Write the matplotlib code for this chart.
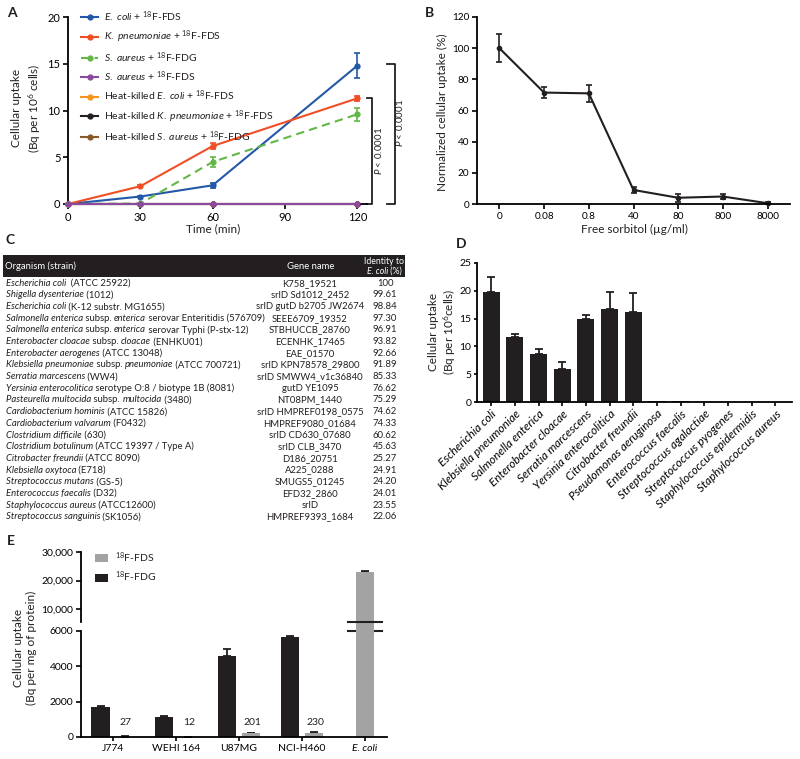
import numpy as np
import matplotlib
matplotlib.use("Agg")
import matplotlib.pyplot as plt
from matplotlib.transforms import Affine2D, blended_transform_factory
from matplotlib.patches import Rectangle

plt.rcParams['font.family'] = ['Lato', 'DejaVu Sans']
plt.rcParams['mathtext.fontset'] = 'custom'
plt.rcParams['mathtext.rm'] = 'Lato'
plt.rcParams['mathtext.it'] = 'Lato:italic'
plt.rcParams['mathtext.bf'] = 'Lato:bold'
plt.rcParams['axes.linewidth'] = 1.3
plt.rcParams['xtick.major.width'] = 1.2
plt.rcParams['ytick.major.width'] = 1.2
plt.rcParams['xtick.major.size'] = 3.5
plt.rcParams['ytick.major.size'] = 3.5
plt.rcParams['xtick.labelsize'] = 7.5
plt.rcParams['ytick.labelsize'] = 7.5
plt.rcParams['xtick.major.pad'] = 2
plt.rcParams['ytick.major.pad'] = 2
TXT = '#231f20'
plt.rcParams['text.color'] = TXT

# ---- panel A: uptake over time
time_min = [0, 30, 60, 120]
ecoli_fds = [0, 0.8, 2.0, 14.8]
ecoli_fds_err = [0, 0.1, 0.25, 1.3]
kpn_fds = [0, 1.9, 6.2, 11.3]
kpn_fds_err = [0, 0.1, 0.3, 0.25]
saureus_fdg = [0, 0.05, 4.5, 9.6]
saureus_fdg_err = [0, 0.05, 0.5, 0.7]
saureus_fds = [0, 0, 0, 0]
hk_ecoli_fds = [0, 0, 0, 0]
hk_kpn_fds = [0, 0, 0, 0]
hk_saureus_fdg = [0, 0, 0, 0]

# ---- panel B: competition with free sorbitol
sorbitol_labels = ['0', '0.08', '0.8', '40', '80', '800', '8000']
norm_uptake = [100, 71.5, 71, 9, 4, 4.8, 0.5]
norm_uptake_err = [9, 3.5, 5.5, 2, 2.5, 1.5, 0.5]

# ---- panel C: srlD homologues (*...* = italic)
organisms = [
    '*Escherichia coli*  (ATCC 25922)',
    '*Shigella dysenteriae* (1012)',
    '*Escherichia coli* (K-12 substr. MG1655)',
    '*Salmonella enterica* subsp. *enterica* serovar Enteritidis (576709)',
    '*Salmonella enterica* subsp. *enterica* serovar Typhi (P-stx-12)',
    '*Enterobacter cloacae* subsp. *cloacae* (ENHKU01)',
    '*Enterobacter aerogenes* (ATCC 13048)',
    '*Klebsiella pneumoniae* subsp. *pneumoniae* (ATCC 700721)',
    '*Serratia marcescens* (WW4)',
    '*Yersinia enterocolitica* serotype O:8 / biotype 1B (8081)',
    '*Pasteurella multocida* subsp. *multocida* (3480)',
    '*Cardiobacterium hominis* (ATCC 15826)',
    '*Cardiobacterium valvarum* (F0432)',
    '*Clostridium difficile* (630)',
    '*Clostridium botulinum* (ATCC 19397 / Type A)',
    '*Citrobacter freundii* (ATCC 8090)',
    '*Klebsiella oxytoca* (E718)',
    '*Streptococcus mutans* (GS-5)',
    '*Enterococcus faecalis* (D32)',
    '*Staphylococcus aureus* (ATCC12600)',
    '*Streptococcus sanguinis* (SK1056)',
]
gene_names = ['K758_19521', 'srlD Sd1012_2452', 'srlD gutD b2705 JW2674',
              'SEEE6709_19352', 'STBHUCCB_28760', 'ECENHK_17465', 'EAE_01570',
              'srlD KPN78578_29800', 'srlD SMWW4_v1c36840', 'gutD YE1095',
              'NT08PM_1440', 'srlD HMPREF0198_0575', 'HMPREF9080_01684',
              'srlD CD630_07680', 'srlD CLB_3470', 'D186_20751', 'A225_0288',
              'SMUGS5_01245', 'EFD32_2860', 'srlD', 'HMPREF9393_1684']
identity = ['100', '99.61', '98.84', '97.30', '96.91', '93.82', '92.66',
            '91.89', '85.33', '76.62', '75.29', '74.62', '74.33', '60.62',
            '45.63', '25.27', '24.91', '24.20', '24.01', '23.55', '22.06']

# ---- panel D: uptake across species
species_D = ['Escherichia coli', 'Klebsiella pneumoniae', 'Salmonella enterica',
             'Enterobacter cloacae', 'Serratia marcescens', 'Yersinia enterocolitica',
             'Citrobacter freundii', 'Pseudomonas aeruginosa', 'Enterococcus faecalis',
             'Streptococcus agalactiae', 'Streptococcus pyogenes',
             'Staphylococcus epidermidis', 'Staphylococcus aureus']
uptake_D = [19.8, 11.7, 8.6, 5.9, 14.9, 16.7, 16.2, 0.2, 0.25, 0.05, 0.05, 0.05, 0.05]
uptake_D_err = [2.7, 0.5, 0.9, 1.3, 0.7, 3.1, 3.4, 0, 0, 0, 0, 0, 0]

# ---- panel E: mammalian cells vs E. coli
cell_lines = ['J774', 'WEHI 164', 'U87MG', 'NCI-H460', 'E. coli']
fdg_uptake = [1700, 1150, 4580, 5650]
fdg_err = [50, 30, 380, 50]
fds_uptake = [27, 12, 201, 230, 22900]
fds_err = [10, 5, 30, 30, 600]
fds_text = ['27', '12', '201', '230']

W, H = 800, 759
fig = plt.figure(figsize=(W / 100, H / 100), dpi=100)
PX = Affine2D().scale(1 / W, -1 / H).translate(0, 1) + fig.transFigure
renderer = fig.canvas.get_renderer()


def add_ax(l, t, r, b):
    ax = fig.add_axes([l / W, 1 - b / H, (r - l) / W, (b - t) / H])
    ax.patch.set_alpha(0)
    for s in ['top', 'right']:
        ax.spines[s].set_visible(False)
    return ax


def rich_text(x, y, s, **kw):
    # draw "*italic* plain" pieces one after another
    for i, part in enumerate(s.split('*')):
        if not part:
            continue
        t = fig.text(x, y, part, transform=PX, va='center',
                     fontstyle='italic' if i % 2 else 'normal', **kw)
        x += t.get_window_extent(renderer).width


def letter(x, y, s):
    fig.text(x, y, s, transform=PX, fontsize=10, fontweight='bold', ha='center', va='center')


# ================= A =================
axA = add_ax(68, 17, 367, 204)
seriesA = [
    (r'$\mathit{E.\ coli}$ + $^{18}$F-FDS', ecoli_fds, ecoli_fds_err, '#2358a8', '-', 3),
    (r'$\mathit{K.\ pneumoniae}$ + $^{18}$F-FDS', kpn_fds, kpn_fds_err, '#f04e25', '-', 3),
    (r'$\mathit{S.\ aureus}$ + $^{18}$F-FDG', saureus_fdg, saureus_fdg_err, '#62b847', '--', 3),
    (r'$\mathit{S.\ aureus}$ + $^{18}$F-FDS', saureus_fds, None, '#8c4a9e', '-', 4),
    (r'Heat-killed $\mathit{E.\ coli}$ + $^{18}$F-FDS', hk_ecoli_fds, None, '#f7941d', '-', 2),
    (r'Heat-killed $\mathit{K.\ pneumoniae}$ + $^{18}$F-FDS', hk_kpn_fds, None, '#231f20', '-', 2),
    (r'Heat-killed $\mathit{S.\ aureus}$ + $^{18}$F-FDG', hk_saureus_fdg, None, '#8b5a2b', '-', 2),
]
for lab, vals, errs, col, ls, z in seriesA:
    axA.plot(time_min, vals, color=col, ls=ls, lw=1.5, marker='o', ms=3.5,
             label=lab, clip_on=False, zorder=z, dashes=(4, 2.5) if ls == '--' else (None, None))
    if errs is not None:
        t = [tt for tt, e in zip(time_min, errs) if e > 0]
        v = [vv for vv, e in zip(vals, errs) if e > 0]
        e = [ee for ee in errs if ee > 0]
        axA.errorbar(t, v, yerr=e, fmt='none', ecolor=col, elinewidth=1.2,
                     capsize=2.5, capthick=1.2, clip_on=False, zorder=z)
axA.set_xlim(0, 124)
axA.set_ylim(0, 20)
axA.set_xticks([0, 30, 60, 90, 120])
axA.set_yticks([0, 5, 10, 15, 20])
axA.tick_params(labelsize=8)
leg = axA.legend(loc='upper left', bbox_to_anchor=(0.045, 1.04), frameon=False,
                 fontsize=7.5, handlelength=1.6, handletextpad=0.6,
                 labelspacing=0.45, borderpad=0, borderaxespad=0)
fig.text(213, 229, 'Time (min)', transform=PX, fontsize=8.5, ha='center', va='center')
fig.text(27, 108, 'Cellular uptake\n(Bq per 10$^6$ cells)', transform=PX, fontsize=8.5,
         rotation=90, ha='center', va='center', multialignment='center', linespacing=1.3)
# significance brackets
tr = blended_transform_factory(axA.transAxes, axA.transData)
for x0, x1, top, tx in [(1.0, 1.018, kpn_fds[-1], 1.037), (1.067, 1.094, 15.0, 1.11)]:
    axA.plot([x0, x1, x1, x0], [top, top, 0, 0], color=TXT, lw=1.3,
             transform=tr, clip_on=False)
    axA.text(tx, top / 2 + (1.2 if top > 12 else 0), r'$\mathit{P}$ < 0.0001', transform=tr,
             rotation=90, fontsize=7, ha='center', va='center')
letter(12, 13, 'A')

# ================= B =================
axB = add_ax(477, 17, 790, 204)
xb = np.arange(len(sorbitol_labels))
axB.errorbar(xb, norm_uptake, yerr=norm_uptake_err, color=TXT, lw=1.5, marker='o', ms=3,
             elinewidth=1.2, capsize=2.5, capthick=1.2, clip_on=False)
axB.set_xlim(-0.5, 6.5)
axB.set_ylim(0, 120)
axB.set_yticks(range(0, 121, 20))
axB.set_xticks(xb)
axB.set_xticklabels(sorbitol_labels)
axB.tick_params(labelsize=7.2)
fig.text(634, 229, 'Free sorbitol (µg/ml)', transform=PX, fontsize=8.5, ha='center', va='center')
fig.text(442, 112, 'Normalized cellular uptake (%)', transform=PX, fontsize=8.5,
         rotation=90, ha='center', va='center')
letter(430, 13, 'B')

# ================= C =================
letter(10, 240, 'C')
fig.add_artist(Rectangle((3, 255), 402, 21.5, transform=PX, facecolor=TXT, edgecolor='none'))
fig.text(5, 266.5, 'Organism (strain)', transform=PX, color='white', fontsize=6.8, va='center')
fig.text(311, 266.5, 'Gene name', transform=PX, color='white', fontsize=6.8, ha='center', va='center')
fig.text(384, 261.5, 'Identity to', transform=PX, color='white', fontsize=6.3, ha='center', va='center')
rich_text(367, 271.5, '*E. coli* (%)', color='white', fontsize=6.3)
for i, (org, gene, idt) in enumerate(zip(organisms, gene_names, identity)):
    y = 283.3 + i * 11.67
    rich_text(6, y, org, fontsize=6.8)
    fig.text(310, y, gene, transform=PX, fontsize=6.8, ha='center', va='center')
    fig.text(385, y, idt, transform=PX, fontsize=6.8, ha='center', va='center')

# ================= D =================
axD = add_ax(477, 263, 792, 402)
xd = np.arange(len(species_D))
axD.bar(xd, uptake_D, width=0.72, color=TXT, zorder=2)
axD.errorbar(xd[:7], uptake_D[:7], yerr=[np.zeros(7), uptake_D_err[:7]], fmt='none',
             ecolor=TXT, elinewidth=1.3, capsize=3, capthick=1.3, zorder=1)
axD.set_xlim(-0.6, 12.7)
axD.set_ylim(0, 25)
axD.set_yticks(range(0, 26, 5))
axD.set_xticks(xd)
axD.set_xticklabels(species_D, rotation=44, ha='right', rotation_mode='anchor',
                    fontstyle='italic', fontsize=8.5)
axD.tick_params(axis='x', length=3, pad=1.5)
axD.tick_params(axis='y', length=2.5, pad=1.5)
fig.text(443, 332, 'Cellular uptake\n(Bq per 10$^6$cells)', transform=PX, fontsize=8.5,
         rotation=90, ha='center', va='center', multialignment='center', linespacing=1.15)
letter(461, 244, 'D')

# ================= E =================
FDS_C, FDG_C = '#a3a3a3', TXT
xe = np.arange(len(cell_lines))
x_fdg = xe[:4] - 0.19
x_fds = np.concatenate([xe[:4] + 0.19, xe[4:]])
axEl = add_ax(81, 631, 387, 737)
axEu = add_ax(81, 552, 387, 622)
err_kw = dict(fmt='none', ecolor=TXT, elinewidth=1.3, capsize=3, capthick=1.3, zorder=1)
# lower segment: all bars up to 6000
axEl.bar(x_fdg, fdg_uptake, width=0.29, color=FDG_C, zorder=2)
axEl.bar(x_fds, fds_uptake, width=0.29, color=FDS_C, zorder=2)
axEl.errorbar(x_fdg, fdg_uptake, yerr=[np.zeros(4), fdg_err], **err_kw)
axEl.errorbar(x_fds[:4], fds_uptake[:4], yerr=[np.zeros(4), fds_err[:4]], **err_kw)
# upper segment: only the E. coli bar reaches it
barsU = axEu.bar(x_fds[4:], fds_uptake[4:], width=0.29, color=FDS_C, zorder=2)
for b in barsU:
    b.set_clip_on(False)
axEu.errorbar(x_fds[4:], fds_uptake[4:], yerr=[[0], fds_err[4:]], **err_kw)
# legend proxies
axEu.bar([np.nan], [np.nan], color=FDS_C, label='$^{18}$F-FDS')
axEu.bar([np.nan], [np.nan], color=FDG_C, label='$^{18}$F-FDG')
for ax in (axEl, axEu):
    ax.set_xlim(-0.5, 4.35)
    ax.tick_params(labelsize=7.5)
axEl.set_ylim(0, 6000)
axEl.set_yticks(range(0, 6001, 2000))
axEu.set_ylim(5440, 30000)
axEu.set_yticks([10000, 20000, 30000])
axEu.set_yticklabels(['10,000', '20,000', '30,000'])
axEu.spines['bottom'].set_visible(False)
axEu.tick_params(axis='x', bottom=False, labelbottom=False)
axEl.set_xticks(xe)
axEl.set_xticklabels(cell_lines)
axEl.get_xticklabels()[-1].set_fontstyle('italic')
axEl.tick_params(axis='x', length=3)
# break marks on the E. coli bar
axEu.plot([4 - 0.27, 4 + 0.27], [5440, 5440], color=TXT, lw=1.5, clip_on=False, zorder=5)
axEl.plot([4 - 0.27, 4 + 0.27], [6000, 6000], color=TXT, lw=1.5, clip_on=False, zorder=5)
trE = blended_transform_factory(axEl.transData, axEl.transAxes)
for x, s in zip(x_fds[:4], fds_text):
    axEl.text(x + 0.02, 0.14, s, transform=trE, fontsize=7.5, ha='center', va='center')
axEu.legend(loc='upper left', bbox_to_anchor=(0.045, 1.02), frameon=False,
            fontsize=7.5, handlelength=1.3, handleheight=0.8, handletextpad=0.6,
            labelspacing=0.45, borderpad=0, borderaxespad=0)
fig.text(25, 648, 'Cellular uptake\n(Bq per mg of protein)', transform=PX, fontsize=8.5,
         rotation=90, ha='center', va='center', multialignment='center', linespacing=1.3)
letter(11, 541, 'E')

fig.savefig('out.png', dpi=100)
